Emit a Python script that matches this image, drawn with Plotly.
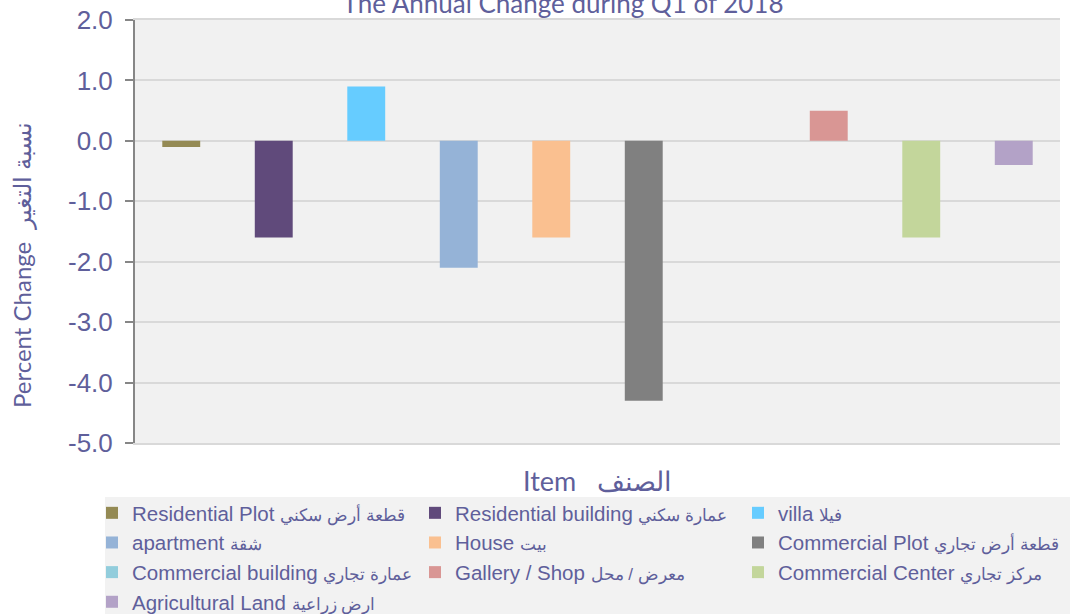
import plotly.graph_objects as go

categories = ["Residential Plot", "Residential building", "villa", "apartment", "House",
              "Commercial Plot", "Commercial building", "Gallery / Shop", "Commercial Center",
              "Agricultural Land"]
labels_ar = ["قطعة أرض سكني", "عمارة سكني", "فيلا", "شقة", "بيت", "قطعة أرض تجاري",
             "عمارة تجاري", "معرض / محل", "مركز تجاري", "ارض زراعية"]
values = [-0.1, -1.6, 0.9, -2.1, -1.6, -4.3, 0.0, 0.5, -1.6, -0.4]
colors = ["#948A54", "#604A7B", "#66CCFF", "#95B3D7", "#FAC090",
          "#808080", "#92CDDC", "#D99694", "#C3D69B", "#B3A2C7"]
y_ticks = [-5, -4, -3, -2, -1, 0, 1, 2]
y_ticktext = ["-5.0", "-4.0", "-3.0", "-2.0", "-1.0", "0.0", "1.0", "2.0"]

TXT = "#5f5f9b"
W, H = 1070, 614
ml, mr, mt, mb = 135, 10, 20, 171
pw, ph = W - ml - mr, H - mt - mb

fig = go.Figure()
for cat, ar, v, c in zip(categories, labels_ar, values, colors):
    name = f'{cat} <span style="font-size:17px">{ar}</span>'
    fig.add_trace(go.Bar(x=[cat], y=[v], name=name, marker=dict(color=c, line=dict(width=0)),
                         width=0.41))

def px_x(p):
    return (p - ml) / pw

def px_y(p):
    return (H - mb - p) / ph

fig.update_layout(
    width=W, height=H,
    margin=dict(l=ml, r=mr, t=mt, b=mb, autoexpand=False),
    paper_bgcolor="white",
    plot_bgcolor="#f1f1f1",
    barmode="overlay",
    showlegend=True,
    title=dict(text="The Annual Change during Q1 of 2018", x=563 / W, xanchor="center",
               y=1 - 4 / H, yanchor="middle",
               font=dict(family="Lato", size=26, color=TXT)),
    xaxis=dict(type="category", categoryorder="array", categoryarray=categories,
               showticklabels=False, ticks="", showgrid=False, zeroline=False,
               showline=True, linecolor="#d9d9d9", linewidth=2, mirror=True,
               range=[-0.5, len(categories) - 0.5]),
    yaxis=dict(range=[-5, 2], tickvals=y_ticks, ticktext=y_ticktext,
               showgrid=True, gridcolor="#d9d9d9", gridwidth=2,
               zeroline=False, showline=True, linecolor="#868686", linewidth=2,
               ticks="outside", ticklen=8, tickcolor="#868686", tickwidth=2,
               ticklabelstandoff=7,
               tickfont=dict(family="Liberation Sans, Arial", size=26, color=TXT)),
    legend=dict(orientation="h", x=px_x(92), xanchor="left", y=px_y(493), yanchor="top",
                bgcolor="rgba(0,0,0,0)", entrywidth=278, entrywidthmode="pixels",
                itemwidth=30, tracegroupgap=0,
                font=dict(family="Liberation Sans, Arial", size=20.5, color=TXT)),
    shapes=[dict(type="rect", xref="paper", yref="paper",
                 x0=px_x(105), x1=px_x(1070), y0=px_y(497), y1=px_y(614),
                 fillcolor="#f2f2f2", line=dict(width=0), layer="below")],
    annotations=[
        dict(text="Percent Change  نسبة التغير", xref="paper", yref="paper",
             x=px_x(22), y=px_y(265), xanchor="center", yanchor="middle",
             textangle=-90, showarrow=False,
             font=dict(family="Lato", size=24, color=TXT)),
        dict(text="Item   الصنف", xref="paper", yref="paper",
             x=px_x(597), y=px_y(480), xanchor="center", yanchor="middle",
             showarrow=False, font=dict(family="Lato", size=27, color=TXT)),
    ],
)

fig.write_html("out.html")
